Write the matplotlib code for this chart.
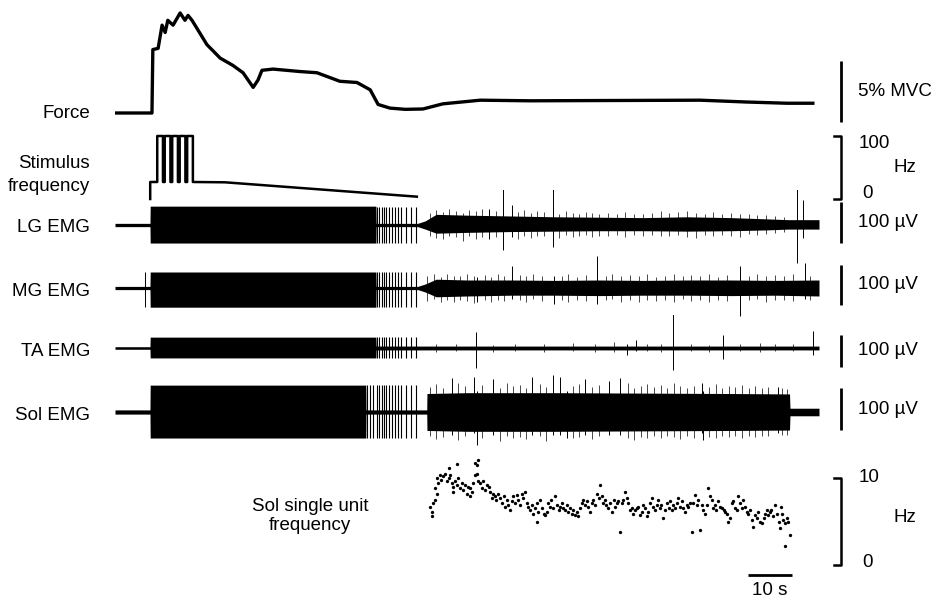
import numpy as np
import matplotlib.pyplot as plt

plt.rcParams['font.family'] = ['Liberation Sans', 'DejaVu Sans']

# time base (s), all traces share it
t_max = 160

# force (% MVC, relative to rest)
force_t = [0, 8.4, 8.6, 9.8, 10.7, 11.4, 12.0, 13.2, 14.8, 15.9, 16.6, 17.5, 20.9, 23.9,
           26.8, 29.1, 31.4, 32.5, 33.4, 35.9, 42.0, 45.9, 51.1, 55.0, 58.0, 59.8, 62.5,
           66.0, 70.0, 74.5, 83.0, 94.3, 133.0, 143.6, 152.7, 158.6]
force_mvc = [0, 0, 5.2, 5.3, 7.2, 6.6, 7.6, 7.2, 8.2, 7.6, 8.0, 7.6, 5.6, 4.5,
             3.9, 3.3, 2.1, 2.7, 3.5, 3.6, 3.4, 3.3, 2.6, 2.5, 1.9, 0.7, 0.4,
             0.3, 0.33, 0.75, 1.05, 1.0, 1.05, 0.9, 0.8, 0.8]

# stimulus frequency (Hz)
stim_start = 8.0
stim_base_hz = 27
burst_hz = 100
burst_on = [9.6, 11.3, 13.0, 14.7, 16.4]
burst_off = [10.9, 12.6, 14.3, 16.0, 17.7]
ramp_t = [17.7, 25.0, 68.6]
ramp_hz = [27, 26.5, 3.7]

# stimulation artifacts after the dense block (s)
artifact_t = [57.2, 57.9, 58.6, 59.5, 60.1, 60.6, 61.1, 61.7, 62.3, 63.0, 63.6,
              64.4, 65.1, 66.1, 67.2, 68.5]

# EMG envelopes (uV)
lg_t = [0, 7.95, 8.0, 59.3, 59.35, 68.8, 70.5, 73, 80, 90, 100, 110, 120, 130, 140, 148, 153, 160]
lg_hi = [4, 4, 46, 46, 4, 4, 10, 26, 24, 22, 20, 19, 18, 20, 18, 15, 13, 13]
lg_lo = [-4, -4, -44, -44, -4, -4, -10, -20, -18, -16, -15, -14, -14, -15, -14, -12, -10, -10]
lg_spk_t = [85.0, 88.2, 90.2, 99.5, 155.0, 156.4]
lg_spk_hi = [40, 98, 49, 110, 110, 61]
lg_spk_lo = [-35, -61, -30, -54, -93, -32]
lg_hair_t = [71.5, 73.0, 74.5, 76.0, 77.5, 79.0, 80.5, 82.0, 83.5, 86.5, 91.5, 93.0, 94.5,
             96.0, 97.5, 101.0, 102.5, 104.0, 105.5, 107.0, 108.5, 110.0, 112.0, 114.0,
             116.0, 118.0, 120.0, 122.0, 124.0, 126.0, 128.0, 130.0, 132.0, 134.0, 136.0,
             138.0, 140.0, 142.0, 144.0, 146.0, 148.0, 150.0, 152.0]
lg_hair_hi = [30, 36, 32, 38, 34, 30, 36, 33, 40, 35, 32, 36, 30, 34, 31, 28, 33, 30, 27,
              31, 29, 26, 30, 27, 31, 28, 26, 30, 33, 29, 31, 34, 30, 28, 31, 27, 29, 26,
              28, 24, 25, 22, 20]
lg_hair_lo = [-26, -32, -35, -28, -30, -38, -27, -33, -29, -30, -34, -27, -31, -28, -26,
              -32, -25, -29, -27, -24, -30, -26, -28, -25, -30, -24, -27, -25, -28, -26,
              -24, -29, -31, -25, -27, -24, -26, -30, -23, -25, -22, -20, -18]

mg_t = [0, 7.95, 8.0, 59.3, 59.35, 68.8, 70.5, 73, 80, 90, 100, 110, 120, 130, 140, 150, 160]
mg_hi = [4, 4, 40, 40, 4, 4, 10, 22, 20, 20, 19, 20, 19, 20, 20, 19, 20]
mg_lo = [-4, -4, -48, -48, -4, -4, -10, -22, -20, -18, -18, -19, -18, -18, -19, -18, -20]
mg_spk_t = [6.8, 82.3, 90.2, 99.8, 109.5, 142.0, 156.8]
mg_spk_hi = [40, 28, 55, 30, 80, 55, 62]
mg_spk_lo = [-48, -35, -28, -40, -40, -70, -28]
mg_hair_t = [71.0, 72.5, 74.0, 75.5, 77.0, 78.5, 80.0, 81.5, 84.0, 85.5, 87.0, 88.5, 92.0,
             93.5, 95.0, 97.0, 101.5, 103.0, 105.0, 107.0, 111.5, 113.0, 115.0, 117.0,
             119.0, 121.0, 123.0, 125.0, 127.0, 129.0, 131.0, 133.0, 135.0, 137.0, 139.0,
             144.0, 146.0, 148.0, 150.0, 152.0, 154.0, 158.0]
mg_hair_hi = [30, 34, 28, 36, 31, 29, 35, 30, 33, 28, 36, 30, 32, 29, 35, 31, 30, 34, 28,
              33, 30, 36, 29, 32, 30, 35, 28, 31, 34, 29, 32, 30, 35, 28, 33, 31, 36, 30,
              33, 29, 34, 31]
mg_hair_lo = [-33, -28, -36, -30, -34, -29, -32, -38, -30, -34, -29, -33, -31, -36, -28,
              -32, -30, -35, -29, -33, -31, -28, -34, -30, -36, -29, -32, -30, -34, -28,
              -33, -31, -35, -29, -32, -30, -28, -34, -31, -29, -33, -30]

ta_t = [0, 7.95, 8.0, 59.3, 59.35, 160]
ta_hi = [4, 4, 34, 34, 6, 6]
ta_lo = [-4, -4, -31, -31, -6, -6]
ta_spk_t = [82.0, 116.4, 118.5, 126.8, 138.2, 158.6]
ta_spk_hi = [50, 12, 25, 134, 41, 53]
ta_spk_lo = [-62, -22, -8, -69, -34, -22]
ta_hair_t = [73.0, 77.5, 86.0, 91.0, 97.5, 104.0, 109.0, 113.5, 121.0, 124.0, 131.0,
             135.0, 142.0, 146.5, 150.0, 154.0]
ta_hair_hi = [12, 14, 10, 13, 11, 15, 12, 18, 14, 11, 12, 10, 13, 16, 12, 11]
ta_hair_lo = [-11, -9, -13, -10, -12, -9, -14, -11, -10, -13, -9, -12, -10, -11, -9, -10]

sol_t = [0, 7.95, 8.0, 57.0, 57.05, 70.85, 70.9, 80, 100, 120, 140, 153.3, 153.4, 160]
sol_hi = [5, 5, 64, 64, 5, 5, 44, 46, 46, 45, 44, 43, 9, 9]
sol_lo = [-5, -5, -62, -62, -5, -5, -44, -46, -46, -45, -44, -43, -9, -9]
sol_spk_t = [76.6, 81.6, 82.3, 85.9, 94.8, 99.5, 101.1, 102.7, 106.8, 112.3, 114.8, 133.4, 133.6, 150.7]
sol_spk_hi = [81, 83, 50, 79, 83, 88, 83, 50, 79, 74, 81, 69, 50, 60]
sol_spk_lo = [-55, -50, -79, -55, -55, -55, -55, -62, -55, -55, -55, -50, -67, -50]
sol_hair_t = [71.5, 73.0, 74.5, 78.0, 79.5, 83.5, 87.5, 89.0, 90.5, 92.0, 93.5, 96.5,
              98.0, 104.0, 105.5, 108.5, 110.0, 116.5, 118.0, 119.5, 121.0, 122.5, 124.0,
              125.5, 127.0, 128.5, 130.0, 131.5, 135.0, 136.5, 138.0, 139.5, 141.0, 142.5,
              144.0, 145.5, 147.0, 148.5, 151.5, 152.8]
sol_hair_hi = [60, 66, 58, 70, 62, 64, 58, 68, 61, 65, 57, 66, 60, 63, 67, 59, 64, 70,
               58, 62, 66, 60, 64, 57, 69, 61, 58, 63, 60, 66, 58, 62, 59, 64, 57, 61,
               58, 60, 56, 55]
sol_hair_lo = [-58, -64, -60, -66, -58, -62, -68, -57, -63, -60, -65, -58, -70, -61,
               -59, -64, -57, -62, -66, -59, -61, -57, -63, -58, -60, -64, -57, -61,
               -59, -63, -56, -60, -58, -62, -57, -60, -56, -58, -55, -54]

# Sol single unit instantaneous frequency (Hz)
su_t = [71.6, 72.0, 72.0, 72.3, 72.7, 73.1, 72.7, 73.5, 73.1, 73.9, 74.2, 74.6, 75.0, 75.4,
        75.8, 76.1, 76.5, 76.9, 76.9, 77.3, 77.7, 78.0, 78.4, 78.8, 79.2, 79.5, 79.9, 80.3,
        80.7, 80.7, 81.1, 81.4, 81.8, 82.2, 82.2, 82.6, 81.8, 77.8, 75.8, 82.6, 83.0, 83.3,
        83.7, 84.1, 84.5, 84.9, 85.2, 85.6, 86.0, 86.4, 86.7, 87.1, 87.5, 87.9, 88.3, 88.6,
        89.0, 89.4, 89.8, 90.2, 90.5, 90.9, 91.3, 91.7, 92.0, 92.4, 92.8, 93.2, 93.6, 93.9,
        94.3, 94.7, 95.1, 95.5, 95.8, 96.2, 96.6, 95.8, 97.0, 97.4, 97.7, 98.1, 98.5, 98.9,
        99.2, 99.6, 100.0, 100.4, 100.8, 101.1, 101.5, 101.9, 102.3, 102.7, 103.0, 103.4,
        103.8, 104.2, 104.5, 104.9, 105.3, 105.7, 106.1, 106.4, 106.8, 107.2, 107.6, 108.0,
        108.3, 108.7, 109.1, 109.5, 109.9, 110.2, 110.6, 111.0, 111.4, 111.7, 112.1, 112.5,
        112.9, 113.3, 113.6, 114.0, 114.4, 114.8, 115.2, 115.5, 115.9, 116.3, 116.7, 117.0,
        117.4, 117.8, 118.2, 118.6, 118.9, 119.3, 119.7, 120.1, 120.5, 120.8, 121.2, 121.6,
        122.0, 122.3, 122.7, 123.1, 123.5, 123.9, 124.2, 124.6, 125.0, 125.4, 125.8, 126.1,
        126.5, 126.9, 127.3, 127.7, 128.0, 128.4, 128.8, 129.2, 129.5, 129.9, 130.3, 130.7,
        131.1, 131.4, 131.8, 132.2, 132.6, 133.0, 133.3, 133.7, 134.1, 134.5, 134.8, 135.2,
        135.6, 136.0, 136.4, 136.7, 137.1, 137.5, 137.9, 138.3, 138.6, 139.0, 139.4, 139.8,
        140.2, 140.5, 140.9, 141.3, 141.7, 142.0, 142.4, 142.8, 143.2, 143.6, 143.9, 144.3,
        144.7, 145.1, 145.5, 145.8, 146.2, 146.6, 147.0, 147.4, 147.7, 148.1, 148.5, 148.9,
        149.2, 149.6, 150.0, 150.4, 150.8, 151.1, 151.3, 151.5, 151.9, 152.3, 152.7, 153.0,
        153.4, 152.3]
su_hz = [6.7, 6.1, 5.6, 7.1, 7.5, 8.2, 8.8, 9.4, 10.0, 10.4, 9.8, 10.2, 10.5, 9.6,
         10.0, 10.4, 9.4, 9.0, 8.4, 9.6, 9.2, 10.0, 8.8, 9.4, 8.6, 9.2, 8.2, 9.0,
         8.8, 7.9, 8.4, 9.4, 10.4, 10.5, 11.5, 12.1, 11.7, 11.6, 11.1, 9.6, 9.4, 8.8,
         9.6, 8.6, 9.2, 9.0, 8.4, 7.7, 8.2, 7.9, 7.5, 8.2, 7.7, 7.1, 7.9, 6.7,
         7.5, 6.9, 6.3, 7.3, 7.9, 7.1, 8.1, 7.5, 6.9, 8.2, 7.7, 8.4, 7.1, 6.7,
         6.3, 6.9, 5.9, 6.5, 7.1, 6.1, 7.5, 4.9, 6.5, 5.9, 5.8, 6.1, 7.1, 6.7,
         7.5, 6.5, 7.9, 6.9, 6.3, 6.7, 7.1, 6.5, 6.3, 6.9, 6.1, 6.5,
         5.9, 6.3, 5.8, 6.1, 5.6, 6.5, 7.1, 7.5, 6.9, 7.3, 6.7, 6.1,
         7.1, 7.5, 6.9, 8.2, 7.7, 9.2, 7.9, 7.1, 7.5, 6.9, 6.5, 7.1,
         6.1, 7.5, 6.7, 7.1, 7.3, 3.8, 7.1, 7.5, 8.4, 7.7, 7.1, 6.3,
         6.5, 5.9, 6.3, 6.5, 6.7, 5.8, 6.1, 6.9, 6.5, 5.6, 6.1, 7.1,
         7.7, 6.7, 6.3, 6.9, 7.5, 6.5, 6.9, 5.4, 6.3, 7.1, 6.5, 7.3,
         6.3, 6.9, 6.5, 7.1, 7.7, 6.7, 7.3, 6.5, 6.1, 6.9, 6.7, 7.1,
         3.8, 7.1, 8.1, 6.9, 7.5, 4.0, 6.9, 6.3, 5.9, 6.9, 8.8, 7.9,
         7.5, 6.5, 6.9, 6.3, 7.3, 6.7, 6.5, 6.3, 6.1, 5.9, 5.0, 5.4,
         7.1, 7.3, 6.5, 6.3, 7.9, 7.1, 6.5, 7.5, 6.7, 6.1, 5.9, 6.3,
         5.2, 4.4, 5.8, 5.4, 6.1, 5.0, 4.8, 5.4, 5.9, 6.3, 5.8, 6.1,
         6.3, 5.6, 6.9, 5.9, 5.0, 4.2, 6.7, 5.9, 5.2, 4.8, 5.4, 5.0,
         3.5, 2.2]

W, H = 935, 601
fig = plt.figure(figsize=(W / 100, H / 100), dpi=100)

x0, x1 = 115, 819  # pixel span of the time axis
bar_t = 165.0      # where the scale bars sit (s)
txt_t = 168.9


def trace_axes(top, bottom, zero_px, px_per_unit):
    ax = fig.add_axes([x0 / W, 1 - bottom / H, (x1 - x0) / W, (bottom - top) / H])
    ax.set_xlim(0, t_max)
    ax.set_ylim((zero_px - bottom) / px_per_unit, (zero_px - top) / px_per_unit)
    ax.axis('off')
    return ax


def emg(ax, t, hi, lo, spk, hair, art_hi, art_lo, art_from):
    ax.fill_between(t, lo, hi, color='black', lw=0)
    arts = [a for a in artifact_t if a >= art_from]
    ax.vlines(arts, art_lo, art_hi, color='black', lw=0.8)
    ax.vlines(hair[0], hair[2], hair[1], color='black', lw=0.5)
    ax.vlines(spk[0], spk[2], spk[1], color='black', lw=0.7)


def bar(ax, lo, hi, label):
    ax.plot([bar_t, bar_t], [lo, hi], color='black', lw=2, clip_on=False,
            solid_capstyle='butt')
    ax.text(txt_t, (lo + hi) / 2, label, fontsize=13.5, va='center', ha='left')


# force
ax = trace_axes(0, 125, 113, 12.2)
ax.plot(force_t, force_mvc, color='black', lw=2.4)
bar(ax, -0.7, 4.3, '5% MVC')

# stimulus frequency
ax = trace_axes(125, 203, 199, 0.63)
st = [stim_start, stim_start]
sh = [0, stim_base_hz]
for on, off in zip(burst_on, burst_off):
    st += [on, on, off, off]
    sh += [stim_base_hz, burst_hz, burst_hz, stim_base_hz]
st += ramp_t
sh += ramp_hz
ax.plot(st, sh, color='black', lw=1.8)
ax.plot([bar_t - 1.6, bar_t, bar_t, bar_t - 1.6], [100, 100, 0, 0], color='black',
        lw=1.8, clip_on=False)
ax.text(txt_t, 88, '100', fontsize=13.5, va='center', ha='left')
ax.text(txt_t + 8, 50, 'Hz', fontsize=13.5, va='center', ha='left')
ax.text(txt_t + 1, 8, '0', fontsize=13.5, va='center', ha='left')

# EMGs
ax = trace_axes(190, 265, 225, 0.41)
emg(ax, lg_t, lg_hi, lg_lo, (lg_spk_t, lg_spk_hi, lg_spk_lo),
    (lg_hair_t, lg_hair_hi, lg_hair_lo), 45, -44, 59.4)
bar(ax, -44, 56, '100 µV')

ax = trace_axes(255, 325, 288, 0.40)
emg(ax, mg_t, mg_hi, mg_lo, (mg_spk_t, mg_spk_hi, mg_spk_lo),
    (mg_hair_t, mg_hair_hi, mg_hair_lo), 40, -48, 59.4)
bar(ax, -42, 58, '100 µV')

ax = trace_axes(315, 385, 348, 0.32)
emg(ax, ta_t, ta_hi, ta_lo, (ta_spk_t, ta_spk_hi, ta_spk_lo),
    (ta_hair_t, ta_hair_hi, ta_hair_lo), 34, -31, 59.4)
bar(ax, -59, 41, '100 µV')

ax = trace_axes(365, 455, 412, 0.42)
emg(ax, sol_t, sol_hi, sol_lo, (sol_spk_t, sol_spk_hi, sol_spk_lo),
    (sol_hair_t, sol_hair_hi, sol_hair_lo), 64, -62, 57.0)
bar(ax, -43, 57, '100 µV')

# single unit
ax = trace_axes(440, 601, 565, 8.7)
ax.plot(su_t, su_hz, 'o', color='black', ms=2.4, mew=0)
ax.plot([bar_t - 1.6, bar_t, bar_t, bar_t - 1.6], [10, 10, 0, 0], color='black',
        lw=1.8, clip_on=False)
ax.text(txt_t, 10, '10', fontsize=13.5, va='center', ha='left')
ax.text(txt_t + 8, 5.5, 'Hz', fontsize=13.5, va='center', ha='left')
ax.text(txt_t + 1, 0.3, '0', fontsize=13.5, va='center', ha='left')
ax.plot([143.9, 153.9], [-1.15, -1.15], color='black', lw=2, solid_capstyle='butt')
ax.text(148.9, -2.9, '10 s', fontsize=13.5, va='center', ha='center')

# row labels
labels = ['Force', 'Stimulus\nfrequency', 'LG EMG', 'MG EMG', 'TA EMG', 'Sol EMG']
label_y = [113, 175, 228, 292, 352, 415]
for lab, y in zip(labels, label_y):
    fig.text(90 / W, 1 - y / H, lab, fontsize=13.5, ha='right', va='center',
             linespacing=1.4)
fig.text(310 / W, 1 - 516 / H, 'Sol single unit\nfrequency', fontsize=13.5,
         ha='center', va='center', linespacing=1.2)

fig.savefig('out.png', dpi=100)
